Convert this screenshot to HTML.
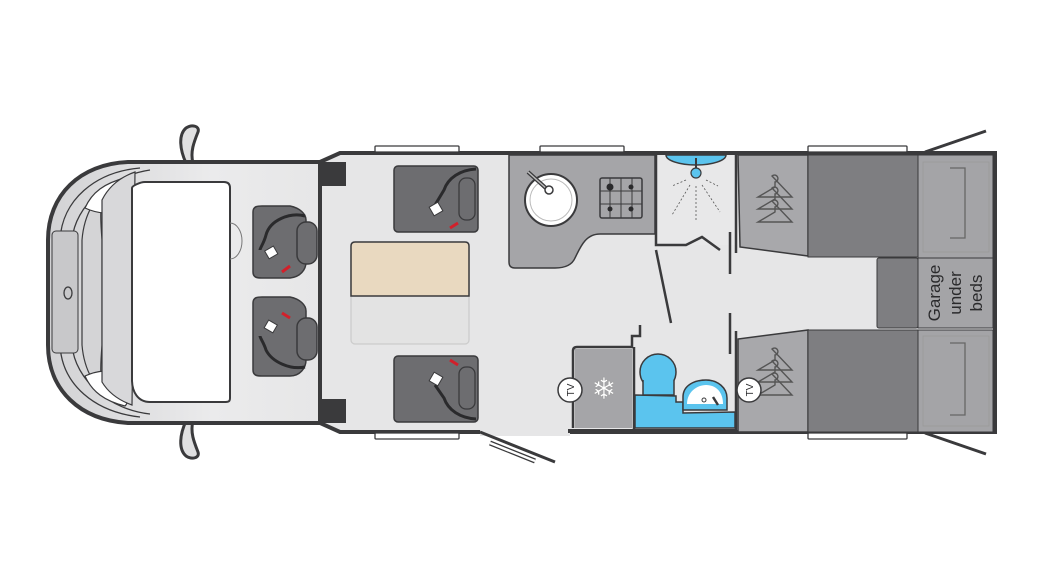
<!DOCTYPE html>
<html><head><meta charset="utf-8"><style>html,body{margin:0;padding:0;background:#fff;width:1042px;height:586px;overflow:hidden}</style></head>
<body>
<svg width="1042" height="586" viewBox="0 0 1042 586" xmlns="http://www.w3.org/2000/svg" font-family="Liberation Sans, sans-serif">
<defs>
<linearGradient id="cab" x1="0" x2="1"><stop offset="0" stop-color="#d2d2d4"/><stop offset="0.6" stop-color="#ebebec"/><stop offset="1" stop-color="#e6e6e7"/></linearGradient>
<g id="hanger" fill="none" stroke="#555" stroke-width="1.4">
<path d="M-3,-4 A3.5,3.5 0 1 1 0,2 L0,7 L-17,17 L17,17 Z"/>
</g>
</defs>
<!-- mirrors -->
<path d="M186,163 C180,150 178,135 186,128 C192,124 200,126 198,132 C194,142 190,152 193,163Z" fill="#e0e0e1" stroke="#3a3a3c" stroke-width="3"/>
<path d="M186,421 C180,434 178,449 186,456 C192,460 200,458 198,452 C194,442 190,432 193,421Z" fill="#e0e0e1" stroke="#3a3a3c" stroke-width="3"/>
<!-- cab body -->
<path d="M322,162 L128,162 C80,164 48,195 48,240 L48,345 C48,390 80,420 128,423 L322,423Z" fill="url(#cab)" stroke="#3a3a3c" stroke-width="4"/>
<path d="M140,168 C95,172 62,200 60,240 L60,345 C62,385 95,412 140,417" fill="none" stroke="#3a3a3c" stroke-width="1.3"/>
<path d="M150,170 C110,176 75,205 72,240 L72,345 C75,380 110,410 150,414" fill="none" stroke="#3a3a3c" stroke-width="1.3"/>
<rect x="52" y="231" width="26" height="122" rx="4" fill="#c8c8ca" stroke="#3a3a3c" stroke-width="1"/>
<ellipse cx="68" cy="293" rx="4" ry="6" fill="none" stroke="#3a3a3c" stroke-width="1.3"/>
<path d="M82,240 C84,215 95,195 115,182 L105,196 C100,205 100,215 102,240 L102,345 C100,370 100,380 105,388 L115,402 C95,390 84,370 82,345Z" fill="#d4d4d6" stroke="#3a3a3c" stroke-width="1.2"/>
<path d="M85,208 C92,192 105,183 125,178 C130,182 128,198 122,212 C110,214 98,214 85,208Z" fill="#fff" stroke="#3a3a3c" stroke-width="1.2"/>
<path d="M85,376 C92,392 105,401 125,406 C130,402 128,386 122,372 C110,370 98,370 85,376Z" fill="#fff" stroke="#3a3a3c" stroke-width="1.2"/>
<path d="M102,200 C108,188 118,178 135,172 L132,405 C118,400 108,392 102,382Z" fill="#d8d8da" stroke="#3a3a3c" stroke-width="1.2"/>
<path d="M132,188 C132,186 140,182 145,182 L224,182 C228,182 230,184 230,188 L230,398 C230,402 228,402 224,402 L150,402 C138,402 132,392 132,380Z" fill="#fff" stroke="#3a3a3c" stroke-width="2"/>
<path d="M230,223 A12,18 0 0 1 230,259" fill="none" stroke="#777" stroke-width="1"/>
<!-- main body -->
<path d="M320,162 L340,153 L995,153 L995,432 L340,432 L320,423Z" fill="#e6e6e7" stroke="#3a3a3c" stroke-width="4"/>
<rect x="318" y="162" width="28" height="24" fill="#3a3a3c"/>
<rect x="318" y="399" width="28" height="24" fill="#3a3a3c"/>
<rect x="480" y="430" width="90" height="6" fill="#e6e6e7"/>
<path d="M480,432 L555,462" stroke="#3a3a3c" stroke-width="3"/>
<path d="M490,443 L535,461" stroke="#3a3a3c" stroke-width="5"/><path d="M490,443 L535,461" stroke="#fff" stroke-width="2.5"/>
<!-- windows -->
<g fill="#fff" stroke="#3a3a3c" stroke-width="1.3">
<rect x="375" y="146" width="84" height="6" rx="1"/><rect x="540" y="146" width="84" height="6" rx="1"/><rect x="808" y="146" width="99" height="6" rx="1"/>
<rect x="375" y="433" width="84" height="6" rx="1"/><rect x="808" y="433" width="99" height="6" rx="1"/>
</g>
<!-- rear doors -->
<path d="M925,152 L986,131 M925,433 L986,454" stroke="#3a3a3c" stroke-width="3"/>
<!-- cab seats -->
<g>
<path d="M253,212 C253,206 258,206 262,206 L290,206 C300,208 306,214 306,220 L306,262 C306,270 300,277 290,278 L262,278 C258,278 253,278 253,272Z" fill="#6d6d70" stroke="#3a3a3c" stroke-width="1.5"/>
<rect x="297" y="222" width="20" height="42" rx="9" fill="#6d6d70" stroke="#3a3a3c" stroke-width="1.5"/>
<path d="M305,216 C290,212 270,220 266,235 C264,243 260,248 260,250" fill="none" stroke="#2a2a2c" stroke-width="3"/>
<rect x="266" y="248" width="10" height="9" fill="#fff" stroke="#3a3a3c" transform="rotate(-30 271 252)"/>
<path d="M282,272 L290,266" stroke="#d2202a" stroke-width="3"/>
</g>
<g>
<path d="M253,303 C253,297 258,297 262,297 L290,297 C300,299 306,305 306,311 L306,360 C306,368 300,376 290,376 L262,376 C258,376 253,376 253,370Z" fill="#6d6d70" stroke="#3a3a3c" stroke-width="1.5"/>
<rect x="297" y="318" width="20" height="42" rx="9" fill="#6d6d70" stroke="#3a3a3c" stroke-width="1.5"/>
<path d="M305,367 C290,370 272,362 266,350 C264,343 260,338 260,336" fill="none" stroke="#2a2a2c" stroke-width="3"/>
<rect x="266" y="322" width="10" height="9" fill="#fff" stroke="#3a3a3c" transform="rotate(30 271 326)"/>
<path d="M282,313 L290,318" stroke="#d2202a" stroke-width="3"/>
</g>
<!-- rear seats -->
<rect x="394" y="166" width="84" height="66" rx="4" fill="#6d6d70" stroke="#3a3a3c" stroke-width="1.5"/>
<rect x="459" y="178" width="16" height="42" rx="7" fill="#6d6d70" stroke="#3a3a3c" stroke-width="1.3"/>
<path d="M476,169 C460,170 448,178 444,190 L435,205" fill="none" stroke="#2a2a2c" stroke-width="3"/>
<rect x="431" y="204" width="10" height="10" fill="#fff" stroke="#3a3a3c" transform="rotate(-30 436 209)"/>
<path d="M450,228 L458,223" stroke="#d2202a" stroke-width="3"/>
<rect x="394" y="356" width="84" height="66" rx="4" fill="#6d6d70" stroke="#3a3a3c" stroke-width="1.5"/>
<rect x="459" y="367" width="16" height="42" rx="7" fill="#6d6d70" stroke="#3a3a3c" stroke-width="1.3"/>
<path d="M476,419 C460,418 448,410 444,398 L435,385" fill="none" stroke="#2a2a2c" stroke-width="3"/>
<rect x="431" y="374" width="10" height="10" fill="#fff" stroke="#3a3a3c" transform="rotate(30 436 379)"/>
<path d="M450,360 L458,365" stroke="#d2202a" stroke-width="3"/>
<!-- table -->
<rect x="351" y="242" width="118" height="102" rx="4" fill="#e3e3e3" stroke="#ccc" stroke-width="1.3"/>
<path d="M351,296 L351,246 Q351,242 355,242 L465,242 Q469,242 469,246 L469,296Z" fill="#e9d9c0" stroke="#3a3a3c" stroke-width="1.5"/>
<!-- kitchen -->
<path d="M509,155 L655,155 L655,234 L600,234 C585,234 580,248 575,258 C572,265 565,268 555,268 L515,268 Q509,268 509,262Z" fill="#a5a5a8" stroke="#3a3a3c" stroke-width="1.5"/>
<circle cx="551" cy="200" r="26" fill="#fff" stroke="#3a3a3c" stroke-width="2"/>
<circle cx="551" cy="200" r="21" fill="none" stroke="#bbb" stroke-width="1"/>
<path d="M528,172 L548,190" stroke="#3a3a3c" stroke-width="4"/><path d="M528,172 L548,190" stroke="#bbb" stroke-width="1.5"/>
<circle cx="549" cy="190" r="4" fill="#fff" stroke="#3a3a3c" stroke-width="1.5"/>
<rect x="600" y="178" width="42" height="40" rx="2" fill="#a5a5a8" stroke="#3a3a3c" stroke-width="1.5"/>
<path d="M621,178 V218 M600,191 H642 M600,204 H642 M610,178 V218 M632,178 V218" stroke="#3a3a3c" stroke-width="1"/>
<g fill="#2a2a2c"><circle cx="610" cy="187" r="3.5"/><circle cx="631" cy="187" r="2.5"/><circle cx="610" cy="209" r="2.5"/><circle cx="631" cy="209" r="2.5"/></g>
<!-- shower -->
<rect x="656" y="155" width="80" height="90" fill="#e8e8e9"/>
<path d="M666,155 A30,10 0 0 0 726,155Z" fill="#5bc4ee" stroke="#3a3a3c" stroke-width="1.5"/>
<path d="M696,158 V168" stroke="#3a3a3c" stroke-width="2"/><circle cx="696" cy="173" r="5" fill="#5bc4ee" stroke="#3a3a3c" stroke-width="1.2"/>
<g stroke="#555" stroke-width="0.8" stroke-dasharray="2,2"><path d="M696,186 V222 M690,185 L672,215 M702,185 L720,212 M686,180 L672,186 M706,180 L718,186"/></g>
<path d="M656,155 V245 L686,245 L702,237 L720,250" fill="none" stroke="#3a3a3c" stroke-width="2.5"/>
<path d="M656,250 L671,323" stroke="#3a3a3c" stroke-width="2.5"/>
<path d="M730,232 V274 M730,313 V354" stroke="#3a3a3c" stroke-width="2.5"/>
<path d="M736,155 V253 M736,331 V432" stroke="#3a3a3c" stroke-width="2.5"/>
<!-- wardrobes/beds -->
<path d="M738,155 L808,155 L808,256 L740,247Z" fill="#a8a8ab" stroke="#3a3a3c" stroke-width="1.5"/>
<rect x="808" y="155" width="110" height="102" fill="#7e7e81" stroke="#3a3a3c" stroke-width="1"/>
<rect x="918" y="155" width="75" height="103" fill="#a4a4a7" stroke="#3a3a3c" stroke-width="1"/>
<path d="M950,168 H965 V238 H950" fill="none" stroke="#666" stroke-width="1.3"/><rect x="923" y="162" width="66" height="90" fill="none" stroke="#999" stroke-width="0.8"/>
<rect x="877" y="258" width="41" height="70" rx="2" fill="#7e7e81" stroke="#3a3a3c" stroke-width="1"/>
<rect x="918" y="258" width="75" height="70" fill="#a4a4a7" stroke="#3a3a3c" stroke-width="1"/>
<g font-size="17" fill="#2a2a2c" text-anchor="middle">
<text transform="translate(940,293) rotate(-90)">Garage</text>
<text transform="translate(961,293) rotate(-90)">under</text>
<text transform="translate(982,293) rotate(-90)">beds</text>
</g>
<path d="M738,432 L738,339 L808,330 L808,432Z" fill="#a8a8ab" stroke="#3a3a3c" stroke-width="1.5"/>
<rect x="808" y="330" width="110" height="102" fill="#7e7e81" stroke="#3a3a3c" stroke-width="1"/>
<rect x="918" y="330" width="75" height="102" fill="#a4a4a7" stroke="#3a3a3c" stroke-width="1"/>
<path d="M950,343 H965 V415 H950" fill="none" stroke="#666" stroke-width="1.3"/><rect x="923" y="336" width="66" height="90" fill="none" stroke="#999" stroke-width="0.8"/>
<!-- hangers -->
<use href="#hanger" x="775" y="180"/><use href="#hanger" x="775" y="192"/><use href="#hanger" x="775" y="205"/>
<use href="#hanger" x="775" y="353"/><use href="#hanger" x="775" y="365"/><use href="#hanger" x="775" y="378"/>
<!-- fridge -->
<path d="M573,428 L573,351 Q573,347 577,347 L632,347 L632,336 L640,336 L640,325" fill="none" stroke="#3a3a3c" stroke-width="2.5"/>
<rect x="575" y="349" width="57" height="79" fill="#a5a5a8"/>
<text x="604" y="399" font-size="30" fill="#fff" text-anchor="middle" stroke="#999" stroke-width="0.4">❄</text>
<!-- toilet room -->
<path d="M635,395 L676,396 L676,402 L683,402 L683,413 L735,412 L735,428 L635,428Z" fill="#5bc4ee" stroke="#3a3a3c" stroke-width="1.5"/>
<path d="M634,347 V430" stroke="#3a3a3c" stroke-width="2.5"/>
<circle cx="658" cy="372" r="18" fill="#5bc4ee" stroke="#3a3a3c" stroke-width="1.5"/>
<path d="M643,380 V395 H674 V380" fill="#5bc4ee" stroke="#3a3a3c" stroke-width="1.5"/>
<path d="M683,410 L683,397 C683,385 695,380 706,380 C718,380 727,388 727,398 L727,410Z" fill="#5bc4ee" stroke="#3a3a3c" stroke-width="1.5"/>
<path d="M687,404 C687,392 697,385 706,385 C716,385 723,392 723,404Z" fill="#fff"/>
<circle cx="704" cy="400" r="2" fill="none" stroke="#3a3a3c"/><path d="M713,397 L718,405" stroke="#3a3a3c" stroke-width="2.5"/>
<path d="M568,431 H736" stroke="#3a3a3c" stroke-width="4"/>
<!-- TV -->
<g font-size="10" fill="#2a2a2c" text-anchor="middle">
<circle cx="570" cy="390" r="12" fill="#fff" stroke="#3a3a3c" stroke-width="1.5"/><text transform="translate(574,390) rotate(-90)">TV</text>
<circle cx="749" cy="390" r="12" fill="#fff" stroke="#3a3a3c" stroke-width="1.5"/><text transform="translate(753,390) rotate(-90)">TV</text>
</g>
</svg>
</body></html>
